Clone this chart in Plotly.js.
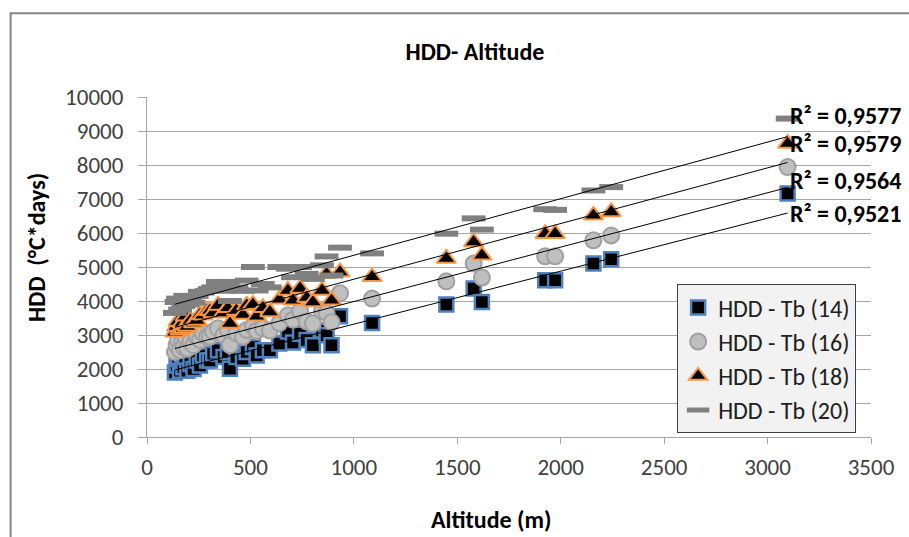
<!DOCTYPE html>
<html>
<head>
<meta charset="utf-8">
<script src="https://cdn.plot.ly/plotly-3.0.1.min.js"></script>
<style>html,body{margin:0;padding:0;background:#fff;}#chart{width:909px;height:537px;}</style>
</head>
<body>
<div id="chart"></div>
<script>
// Altitude of each station (m)
const altitude = [135,143,150,160,170,176,185,195,210,225,240,256,270,290,304,320,343,370,391,401,432,464,482,512,530,560,594,640,681,706,740,772,802,846,868,892,933,1088,1447,1579,1619,1925,1973,2158,2244,3097];
// HDD for base temperature 14
const hdd14 = [1900,2100,2300,1950,2200,2050,2350,1950,2150,2000,2250,2100,2400,2250,2250,2450,2550,2350,2500,2010,2350,2300,2500,2650,2400,2550,2550,2750,3100,2780,3040,2850,2700,3130,2990,2700,3550,3350,3900,4365,3970,4610,4610,5100,5225,7160];
// HDD for base temperature 16
const hdd16 = [2500,2700,2850,2550,2800,2650,2950,2600,2800,2700,2950,2850,3050,2950,2950,3100,3200,3000,3150,2700,3050,2950,3150,3250,3120,3200,3130,3350,3580,3450,3700,3400,3340,3700,3650,3380,4230,4070,4580,5100,4690,5315,5315,5785,5930,7940];
// HDD for base temperature 18
const hdd18 = [3080,3250,3400,3150,3350,3190,3550,3250,3430,3350,3430,3600,3580,3720,3720,3650,3870,3650,3800,3340,3720,3600,3870,3900,3550,3800,3680,4050,4310,4020,4370,4100,3970,4310,4800,4020,4850,4710,5250,5735,5345,5980,5980,6520,6620,8630];
// HDD for base temperature 20
const hdd20 = [3650,3970,4070,3750,4000,3850,4150,3900,4100,3950,4150,4270,4250,4300,4350,4400,4560,4300,4560,4000,4400,4300,4600,5000,4310,4500,4400,5000,4950,4700,5000,4800,4650,5050,5310,4750,5570,5400,5980,6430,6100,6700,6680,7250,7350,9365];

const seriesNames = ["HDD - Tb (14)","HDD - Tb (16)","HDD - Tb (18)","HDD - Tb (20)"];
const r2Labels = ["R² = 0,9521","R² = 0,9564","R² = 0,9579","R² = 0,9577"];
const xTicks = [0,500,1000,1500,2000,2500,3000,3500];
const yTicks = [0,1000,2000,3000,4000,5000,6000,7000,8000,9000,10000];

const FONT = "Carlito, Lato, 'Open Sans', sans-serif";
const allY = [hdd14, hdd16, hdd18, hdd20];
const markerStyles = [
  {symbol:'square', size:14, color:'#000000', line:{color:'#4f81bd', width:2.5}},
  {symbol:'circle', size:16, color:'#bfbfbf', line:{color:'#a0a0a0', width:2}},
  {symbol:'triangle-up', size:17, color:'#000000', line:{color:'#f79646', width:2}},
  {symbol:'line-ew', size:17, color:'#808080', line:{color:'#808080', width:6}}
];

function fit(xs, ys){
  const n = xs.length;
  let sx=0, sy=0, sxx=0, sxy=0;
  for(let i=0;i<n;i++){sx+=xs[i];sy+=ys[i];sxx+=xs[i]*xs[i];sxy+=xs[i]*ys[i];}
  const b = (n*sxy - sx*sy)/(n*sxx - sx*sx);
  const a = (sy - b*sx)/n;
  return {a, b};
}

const traces = [];
const xmin = Math.min(...altitude), xmax = Math.max(...altitude);
allY.forEach((ys, k) => {
  traces.push({
    type:'scatter', mode:'markers', name: seriesNames[k],
    x: altitude, y: ys, marker: markerStyles[k], cliponaxis:false
  });
});
allY.forEach((ys, k) => {
  const f = fit(altitude, ys);
  traces.push({
    type:'scatter', mode:'lines', showlegend:false, hoverinfo:'skip',
    x:[xmin, xmax], y:[f.a + f.b*xmin, f.a + f.b*xmax],
    line:{color:'#000000', width:1}
  });
});

const r2Y = [0.658, 0.755, 0.863, 0.946];
const annotations = r2Labels.map((t,k) => ({
  text: '<b>'+t+'</b>', xref:'paper', yref:'paper', x:1.044, y:r2Y[k], xanchor:'right', yanchor:'middle',
  showarrow:false, font:{family:FONT, size:24, color:'#000000'}
}));
annotations.push({text:'<b>Altitude (m)</b>', xref:'paper', yref:'paper', x:(491-146.5)/724.5, y:(436.7-519)/340,
  xanchor:'center', yanchor:'middle', showarrow:false, font:{family:FONT, size:24, color:'#000'}});
annotations.push({text:'<b>HDD  (°C*days)</b>', xref:'paper', yref:'paper', x:(36-146.5)/724.5, y:(436.7-247)/340,
  xanchor:'center', yanchor:'middle', textangle:-90, showarrow:false, font:{family:FONT, size:24, color:'#000'}});

const layout = {
  width:909, height:537,
  margin:{l:146.5, r:37.5, t:96.7, b:100.3},
  paper_bgcolor:'#ffffff', plot_bgcolor:'#ffffff',
  font:{family:FONT, color:'#333333'},
  title:{text:'<b>HDD- Altitude</b>', x:475/909, xanchor:'center', y:0.903, yanchor:'middle', font:{family:FONT, size:24, color:'#000'}},
  xaxis:{range:[0,3500], tickvals:xTicks, ticktext:xTicks.map(String), showgrid:false, zeroline:false,
    showline:true, linecolor:'#a6a6a6', linewidth:1, ticks:'outside', ticklen:6, tickcolor:'#a6a6a6',
    ticklabelstandoff:3, tickfont:{family:FONT, size:23, color:'#404040'}},
  yaxis:{range:[0,10000], tickvals:yTicks, ticktext:yTicks.map(String), showgrid:true, gridcolor:'#a6a6a6', gridwidth:1,
    zeroline:false, showline:true, linecolor:'#a6a6a6', linewidth:1, ticks:'outside', ticklen:8, tickcolor:'#a6a6a6',
    ticklabelstandoff:10, tickfont:{family:FONT, size:23, color:'#404040'}},
  legend:{x:(677-146.5)/724.5, y:(436.7-284)/340, xanchor:'left', yanchor:'top', bgcolor:'#f2f2f2',
    bordercolor:'#404040', borderwidth:1, font:{family:FONT, size:24, color:'#202020'}, itemwidth:30},
  shapes:[{type:'rect', xref:'paper', yref:'paper', x0:(10-146.5)/724.5, x1:1.2, y0:-0.5, y1:(436.7-13)/340,
    line:{color:'#868686', width:2}, fillcolor:'rgba(0,0,0,0)', layer:'below'}],
  annotations: annotations,
  showlegend:true
};
Plotly.newPlot('chart', traces, layout, {displayModeBar:false, staticPlot:true});
</script>
</body>
</html>
